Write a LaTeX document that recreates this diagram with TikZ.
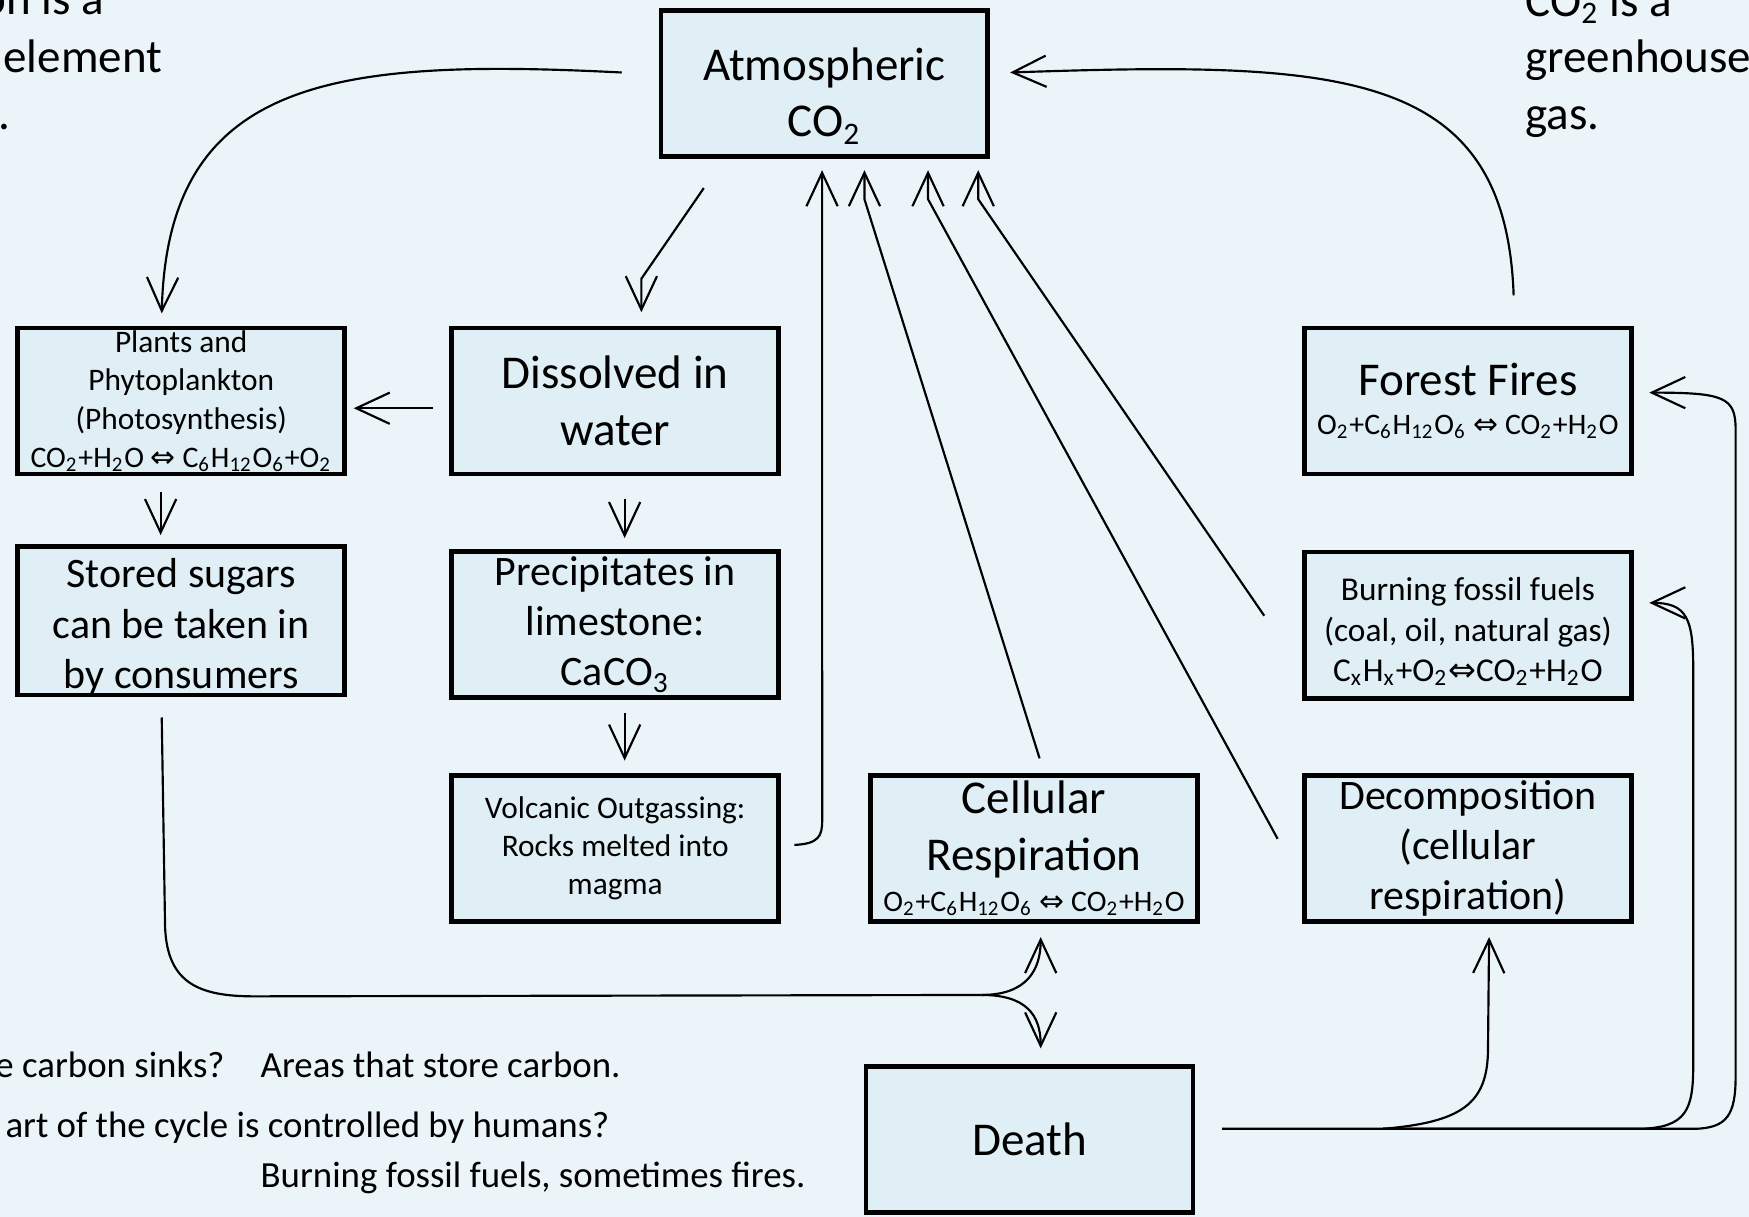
\documentclass[tikz,border=0pt]{standalone}
\usepackage{fontspec}
\setmainfont{Carlito}
\newfontfamily\arrowfont{DejaVu Sans}
\usetikzlibrary{arrows.meta}
\definecolor{slidebg}{RGB}{235,244,248}
\definecolor{boxfill}{RGB}{223,239,245}
\newcommand{\sbs}[1]{\textsubscript{#1}}
\newcommand{\eqv}{{\arrowfont ⇔}}
\newcommand{\eqsize}{\fontsize{7.6}{9.2}\selectfont}

\begin{document}
\begin{tikzpicture}[x=0.1mm,y=-0.1mm,
   box/.style={draw,line width=1.2pt,fill=boxfill,minimum width=29.3mm,
     minimum height=13.1mm,inner sep=0pt,align=center},
   arr/.style={line width=0.55pt,-{Straight Barb[length=3mm,width=2.8mm]}},
   link/.style={line width=0.55pt},
   bigtext/.style={font=\fontsize{12}{14.4}\selectfont},
   midtext/.style={font=\fontsize{10.7}{12.8}\selectfont},
   smalltext/.style={font=\fontsize{8}{9.8}\selectfont},
   note/.style={font=\fontsize{12}{14.4}\selectfont,inner sep=0pt},
   question/.style={font=\fontsize{9.4}{11.4}\selectfont,inner sep=0pt}]
   \useasboundingbox (0,0) rectangle (1568,1091);
   \fill[slidebg] (0,0) rectangle (1568,1091);
   \clip (0,0) rectangle (1568,1091);
   % boxes
   \node[box,bigtext] (atm) at (739,75) {\rule{0pt}{14.6pt}Atmospheric\\CO\sbs{2}};
   \node[box,smalltext] (plants) at (162.5,359.5) {Plants and\\Phytoplankton\\(Photosynthesis)\\
     {\eqsize CO\sbs{2}+H\sbs{2}O \eqv{} C\sbs{6}H\sbs{12}O\sbs{6}+O\sbs{2}}};
   \node[box,bigtext] (dissolved) at (551.5,359.5) {Dissolved in\\water};
   \node[box,bigtext] (forest) at (1316,359.5) {Forest Fires\\[-4.3pt]
     {\eqsize O\sbs{2}+C\sbs{6}H\sbs{12}O\sbs{6} \eqv{} CO\sbs{2}+H\sbs{2}O}};
   \node[box,midtext] (stored) at (162.5,556.5) {\rule{0pt}{10.6pt}Stored sugars\\can be taken in\\by consumers};
   \node[box,midtext] (precip) at (551.5,560) {Precipitates in\\limestone:\\CaCO\sbs{3}};
   \node[box,font=\fontsize{8.5}{10.3}\selectfont] (burning) at (1316,560.5)
     {\rule{0pt}{9.3pt}Burning fossil fuels\\(coal, oil, natural gas)\\C\sbs{x}H\sbs{x}+O\sbs{2}\eqv{}CO\sbs{2}+H\sbs{2}O};
   \node[box,smalltext] (volcanic) at (551.5,760.5) {Volcanic Outgassing:\\Rocks melted into\\magma};
   \node[box,bigtext] (cellular) at (927,760.5) {Cellular\\Respiration\\[-4pt]
     {\eqsize O\sbs{2}+C\sbs{6}H\sbs{12}O\sbs{6} \eqv{} CO\sbs{2}+H\sbs{2}O}};
   \node[box,midtext] (decomp) at (1316,760.5) {Decomposition\\(cellular\\respiration)};
   \node[box,bigtext] (death) at (923,1021.5) {Death};
   % side texts
   \node[note,anchor=base east] (lefta) at (94,13) {on is a};
   \node[note,anchor=base east] (leftb) at (146,65) {element};
   \node[note,anchor=base east] (leftc) at (10,116) {.};
   \node[note,anchor=base west] (righta) at (1367,15) {CO\sbs{2} is a};
   \node[note,anchor=base west] (rightb) at (1367,65) {greenhouse};
   \node[note,anchor=base west] (rightc) at (1367,116) {gas.};
   \node[question,anchor=base east] (qsinks) at (202,966) {e carbon sinks?};
   \node[question,anchor=base west] (asinks) at (233,966) {Areas that store carbon.};
   \node[question,anchor=base east] (qhumans) at (547,1020) {art of the cycle is controlled by humans?};
   \node[question,anchor=base west] (ahumans) at (233,1065) {Burning fossil fuels, sometimes fires.};
   % arrows out of the atmosphere
   \draw[arr] ([xshift=-3.3mm,yshift=1mm]atm.west) .. controls +(-258,-13) and +(5,-211)
     .. ([xshift=-1.75mm,yshift=1.1mm]plants.north);
   \draw[arr] ([xshift=-10.8mm,yshift=-2.6mm]atm.south) -- ([xshift=2.35mm,yshift=4.2mm]dissolved.north)
     -- ([xshift=2.35mm,yshift=1.2mm]dissolved.north);
   \draw[arr] ([xshift=-1.5mm,yshift=-0.65mm]dissolved.west) -- ([xshift=0.6mm,yshift=-0.65mm]plants.east);
   \draw[arr] ([xshift=-1.85mm,yshift=-1.4mm]plants.south) -- ([xshift=-1.85mm,yshift=0.8mm]stored.north);
   \draw[arr] ([xshift=0.85mm,yshift=-2mm]dissolved.south) -- ([xshift=0.85mm,yshift=1mm]precip.north);
   \draw[arr] ([xshift=0.85mm,yshift=-1.2mm]precip.south) -- ([xshift=0.85mm,yshift=1.1mm]volcanic.north);
   % arrows into the atmosphere
   \draw[arr] ([xshift=1.2mm,yshift=0.3mm]volcanic.east) .. controls +(22,-1) and +(0,14) .. ++(25,-22)
     -- ([xshift=-0.2mm,yshift=-1mm]atm.south);
   \draw[arr] ([xshift=0.5mm,yshift=1.3mm]cellular.north) -- ([xshift=3.6mm,yshift=-3.6mm]atm.south)
     -- ([xshift=3.6mm,yshift=-1mm]atm.south);
   \draw[arr] ([xshift=-2.2mm,yshift=0.85mm]decomp.west) -- ([xshift=9.3mm,yshift=-3.6mm]atm.south)
     -- ([xshift=9.3mm,yshift=-1mm]atm.south);
   \draw[arr] ([xshift=-3.4mm,yshift=0.85mm]burning.west) -- ([xshift=13.8mm,yshift=-3.6mm]atm.south)
     -- ([xshift=13.8mm,yshift=-1mm]atm.south);
   \draw[arr] ([xshift=4.1mm,yshift=2.7mm]forest.north) .. controls +(-7,-205) and +(295,-10)
     .. ([xshift=1.8mm,yshift=1mm]atm.east);
   % consumers to respiration and death
   \coordinate (split1) at (880,892);
   \draw[link] ([xshift=-1.75mm,yshift=-1.8mm]stored.south) -- ++(3,188)
     .. controls +(2,50) and +(-50,0) .. ++(80,62) -- (split1);
   \draw[arr] (split1) .. controls +(40,0) and +(0,30) .. ([xshift=0.6mm,yshift=-1.2mm]cellular.south);
   \draw[arr] (split1) .. controls +(40,0) and +(0,-30) .. ([xshift=1mm,yshift=1.4mm]death.north);
   % death to decomposition and fires
   \coordinate (split2) at (1240,1012);
   \draw[link] ([xshift=2.4mm,yshift=0.95mm]death.east) -- (split2);
   \draw[arr] (split2) .. controls +(70,-6) and +(0,50) .. (1334,940)
     -- ([xshift=1.9mm,yshift=-1.2mm]decomp.south);
   \draw[arr] (split2) -- (1470,1012) .. controls +(42,-1) and +(0,40) .. (1518,955) -- (1518,600)
     .. controls +(0,-45) and +(34,0) .. ([xshift=1.4mm,yshift=2mm]burning.east);
   \draw[arr] (split2) -- (1520,1012) .. controls +(28,-1) and +(0,35) .. (1556,965) -- (1556,385)
     .. controls +(0,-29) and +(67,0) .. ([xshift=1.4mm,yshift=0.75mm]forest.east);
\end{tikzpicture}
\end{document}
